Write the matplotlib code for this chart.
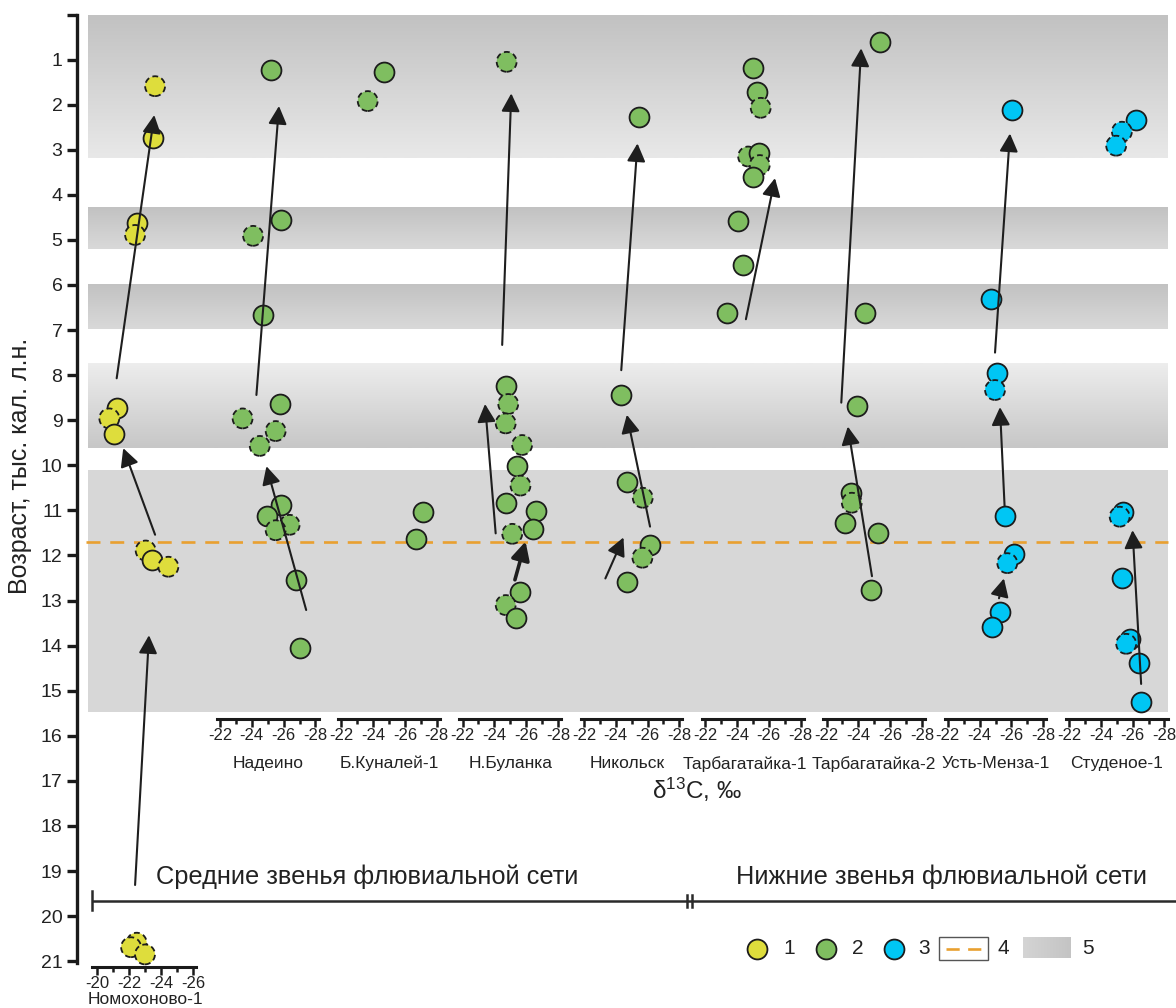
import numpy as np
import matplotlib
matplotlib.use("Agg")
import matplotlib.pyplot as plt
from matplotlib.colors import LinearSegmentedColormap

plt.rcParams['font.family'] = ['Liberation Sans', 'DejaVu Sans']
plt.rcParams['mathtext.fontset'] = 'custom'
plt.rcParams['mathtext.rm'] = 'Liberation Sans'
plt.rcParams['mathtext.it'] = 'Liberation Sans:italic'
plt.rcParams['axes.unicode_minus'] = False

# ---------------------------------------------------------------- data
age_ticks = list(range(0, 22))
d13c_ticks = [-22, -24, -26, -28]
nom_ticks = [-20, -22, -24, -26]

sites = ['Надеино', 'Б.Куналей-1', 'Н.Буланка', 'Никольск',
         'Тарбагатайка-1', 'Тарбагатайка-2', 'Усть-Менза-1', 'Студеное-1']
site_groups = [2, 2, 2, 2, 2, 2, 3, 3]

# samples: (δ13C ‰, age ka cal BP, dashed outline)
nomokhonovo = [(-23.63, 1.59, 1), (-23.52, 2.75, 0), (-22.48, 4.62, 0),
               (-22.38, 4.89, 1), (-21.23, 8.74, 0), (-20.77, 8.96, 1),
               (-21.08, 9.31, 0), (-23.04, 11.89, 1), (-23.46, 12.09, 0),
               (-24.46, 12.25, 1), (-22.48, 20.59, 1), (-22.13, 20.69, 1),
               (-23.00, 20.85, 1)]
nadeino = [(-25.23, 1.23, 0), (-25.86, 4.56, 0), (-24.08, 4.91, 1),
           (-24.71, 6.67, 0), (-25.75, 8.64, 0), (-23.42, 8.96, 1),
           (-25.50, 9.24, 1), (-24.50, 9.57, 1), (-25.81, 10.87, 0),
           (-24.98, 11.12, 0), (-26.38, 11.32, 1), (-25.50, 11.44, 1),
           (-26.75, 12.54, 0), (-27.06, 14.06, 0)]
b_kunalei = [(-24.66, 1.27, 0), (-23.66, 1.92, 1),
             (-27.16, 11.04, 0), (-26.69, 11.64, 0)]
n_bulanka = [(-24.77, 1.05, 1), (-24.71, 8.23, 0), (-24.87, 8.64, 1),
             (-24.71, 9.07, 1), (-25.74, 9.55, 1), (-25.43, 10.02, 0),
             (-25.64, 10.45, 1), (-24.71, 10.83, 0), (-26.62, 11.01, 0),
             (-26.41, 11.41, 0), (-25.12, 11.52, 1), (-25.64, 12.80, 0),
             (-24.71, 13.10, 1), (-25.33, 13.39, 0)]
nikolsk = [(-25.49, 2.28, 0), (-24.35, 8.44, 0), (-24.70, 10.38, 0),
           (-25.70, 10.72, 1), (-26.16, 11.77, 0), (-25.68, 12.05, 1),
           (-24.70, 12.58, 0)]
tarbagataika1 = [(-25.01, 1.19, 0), (-25.28, 1.71, 0), (-25.49, 2.07, 1),
                 (-24.70, 3.15, 1), (-25.37, 3.08, 0), (-25.43, 3.34, 1),
                 (-25.01, 3.61, 0), (-24.08, 4.57, 0), (-24.39, 5.56, 0),
                 (-23.37, 6.63, 0)]
tarbagataika2 = [(-25.39, 0.60, 0), (-24.43, 6.63, 0), (-23.93, 8.68, 0),
                 (-23.51, 10.62, 0), (-23.59, 10.83, 1), (-23.18, 11.27, 0),
                 (-25.26, 11.51, 0), (-24.80, 12.77, 0)]
ust_menza1 = [(-26.05, 2.12, 0), (-24.69, 6.31, 0), (-25.11, 7.96, 0),
              (-24.97, 8.33, 1), (-25.57, 11.12, 0), (-26.19, 11.97, 0),
              (-25.74, 12.17, 1), (-25.28, 13.25, 0), (-24.80, 13.58, 0)]
studenoe1 = [(-26.21, 2.34, 0), (-25.32, 2.60, 1), (-24.96, 2.91, 1),
             (-25.38, 11.03, 0), (-25.18, 11.14, 1), (-25.32, 12.49, 0),
             (-25.84, 13.86, 0), (-25.59, 13.96, 1), (-26.40, 14.38, 0),
             (-26.53, 15.24, 0)]

# trends: (from δ13C, from age) -> (to δ13C, to age)
nomokhonovo_trends = [((-22.38, 19.31), (-23.25, 13.77)),
                      ((-23.63, 11.54), (-21.64, 9.62)),
                      ((-21.23, 8.07), (-23.58, 2.23))]
nadeino_trends = [((-24.29, 8.44), (-25.71, 2.03)),
                  ((-27.42, 13.21), (-24.92, 10.02))]
b_kunalei_trends = []
n_bulanka_trends = [((-24.49, 7.33), (-25.06, 1.75)),
                    ((-24.08, 11.51), (-23.41, 8.64)),
                    ((-25.29, 12.54), (-25.96, 11.69))]
nikolsk_trends = [((-24.35, 7.89), (-25.37, 2.86)),
                  ((-26.16, 11.36), (-24.70, 8.88)),
                  ((-23.35, 12.51), (-24.49, 11.60))]
tarbagataika1_trends = [((-24.56, 6.76), (-26.39, 3.63))]
tarbagataika2_trends = [((-22.93, 8.61), (-24.18, 0.75)),
                        ((-24.86, 12.46), (-23.34, 9.14))]
ust_menza1_trends = [((-24.97, 7.50), (-25.91, 2.64)),
                     ((-25.57, 10.90), (-25.28, 8.71)),
                     ((-25.22, 12.95), (-25.53, 12.51))]
studenoe1_trends = [((-26.53, 14.85), (-25.99, 11.44))]

site_samples = [nadeino, b_kunalei, n_bulanka, nikolsk,
                tarbagataika1, tarbagataika2, ust_menza1, studenoe1]
site_trends = [nadeino_trends, b_kunalei_trends, n_bulanka_trends,
               nikolsk_trends, tarbagataika1_trends, tarbagataika2_trends,
               ust_menza1_trends, studenoe1_trends]

# warm intervals (ka) and Younger Dryas boundary
warm_intervals = [(0.03, 3.18), (4.30, 5.21), (6.00, 6.98),
                  (7.74, 9.61), (10.12, 15.48)]
yd_boundary = 11.7

# ---------------------------------------------------------------- style
W, H = 1176, 1008
TOP = 14.5            # px of age 0
KYR = 45.08           # px per ka
PERMIL = 15.9         # px per 1 ‰
PANEL_STEP = 121.3    # px between neighbouring site panels
group_colors = {1: '#dedd3c', 2: '#7fbe60', 3: '#00c6f4'}
EDGE = '#1c1c1c'
ARROW = '#1e1e1e'
TEXT = '#222222'
ORANGE = '#e9a030'
MS = 205
band_shades = [('#c2c2c2', '#e8e8e8'), ('#c2c2c2', '#d9d9d9'),
               ('#c2c2c2', '#d9d9d9'), ('#ededed', '#c7c7c7'),
               ('#d7d7d7', '#d7d7d7')]
# caption nudges in ‰ (positive values move the caption towards -22)
caption_nudge = {'Тарбагатайка-1': 0.5, 'Никольск': 0.3}


def rect(x0, y0, w, h):
    return [x0 / W, 1 - (y0 + h) / H, w / W, h / H]


fig = plt.figure(figsize=(W / 100, H / 100), dpi=100)
fig.patch.set_facecolor('white')

# ---------------------------------------------------------------- age axis
AGE_MAX = 21.05
ax0 = fig.add_axes(rect(77, TOP, W - 77, AGE_MAX * KYR))
for (a0, a1), (c0, c1) in zip(warm_intervals, band_shades):
    cmap = LinearSegmentedColormap.from_list('b', [c0, c1])
    grad = np.linspace(0, 1, 64).reshape(-1, 1)
    ax0.imshow(grad, extent=(88, 1168, a1, a0), origin='upper',
               aspect='auto', cmap=cmap, vmin=0, vmax=1, zorder=0)
ax0.hlines(yd_boundary, 86, 1168, colors=ORANGE, lw=1.9,
           linestyles=(0, (5.3, 3.7)), zorder=1)
ax0.set_xlim(77, W)
ax0.set_ylim(AGE_MAX, 0)
ax0.patch.set_visible(False)
for s in ['top', 'right', 'bottom']:
    ax0.spines[s].set_visible(False)
ax0.spines['left'].set_linewidth(2.4)
ax0.spines['left'].set_color('#1a1a1a')
ax0.set_xticks([])
ax0.set_yticks(age_ticks)
ax0.set_yticklabels([''] + [str(a) for a in age_ticks[1:]])
ax0.tick_params(axis='y', length=7.5, width=2.4, labelsize=14, pad=3,
                color='#1a1a1a', labelcolor=TEXT)


def draw_samples(ax, samples, color):
    for d, a, dashed in samples:
        ax.scatter([d], [a], s=MS, c=color, edgecolors=EDGE,
                   linewidths=1.3,
                   linestyles=(0, (3.2, 2.0)) if dashed else 'solid',
                   zorder=3, clip_on=False)


def draw_trends(ax, trends, lw=1.5):
    for (d0, a0), (d1, a1) in trends:
        ax.annotate('', xy=(d1, a1), xytext=(d0, a0), annotation_clip=False,
                    arrowprops=dict(arrowstyle='-|>,head_length=0.55,head_width=0.28',
                                    mutation_scale=20, lw=lw, color=ARROW,
                                    shrinkA=0, shrinkB=0), zorder=4)


def style_panel(ax, ticks, spine_age, label, label_age):
    ax.patch.set_visible(False)
    for s in ['top', 'right', 'left']:
        ax.spines[s].set_visible(False)
    ax.spines['bottom'].set_position(('data', spine_age))
    ax.spines['bottom'].set_linewidth(2.2)
    ax.spines['bottom'].set_color('#1a1a1a')
    ax.set_yticks([])
    ax.set_xticks(ticks)
    ax.set_xticklabels([str(t) for t in ticks])
    step = 1 if ticks[1] > ticks[0] else -1
    ax.set_xticks([t + step for t in ticks[:-1]], minor=True)
    ax.tick_params(axis='x', which='major', direction='out', length=5.5,
                   width=1.8, labelsize=12, pad=1.5, color='#1a1a1a',
                   labelcolor=TEXT)
    ax.tick_params(axis='x', which='minor', direction='out', length=3.5,
                   width=1.8, color='#1a1a1a')
    centre = (ticks[0] + ticks[-1]) / 2 + caption_nudge.get(label, 0.0)
    ax.text(centre, label_age, label, ha='center', va='center',
            fontsize=12.5, color=TEXT, clip_on=False)


PANEL_AGE = 21.2
SPINE_AGE = 15.62
NAME_AGE = 16.62
for i, (name, grp, samples, trends) in enumerate(
        zip(sites, site_groups, site_samples, site_trends)):
    x22 = 220 + PANEL_STEP * i
    ax = fig.add_axes(rect(x22 - 0.2 * PERMIL, TOP, 6.4 * PERMIL, PANEL_AGE * KYR))
    ax.set_xlim(-21.8, -28.2)
    ax.set_ylim(PANEL_AGE, 0)
    style_panel(ax, d13c_ticks, SPINE_AGE, name, NAME_AGE)
    draw_samples(ax, samples, group_colors[grp])
    if name == 'Н.Буланка':
        draw_trends(ax, trends[:2])
        draw_trends(ax, trends[2:], lw=2.6)
    else:
        draw_trends(ax, trends)

# Nomokhonovo-1 panel with its axis at the very bottom
axn = fig.add_axes(rect(97 - 0.3 * 16, TOP, 6.5 * 16, PANEL_AGE * KYR))
axn.set_xlim(-19.7, -26.2)
axn.set_ylim(PANEL_AGE, 0)
style_panel(axn, nom_ticks, 21.12, 'Номохоново-1', 21.86)
draw_samples(axn, nomokhonovo, group_colors[1])
draw_trends(axn, nomokhonovo_trends)

# ---------------------------------------------------------------- annotations
ov = fig.add_axes([0, 0, 1, 1])
ov.axis('off')
ov.patch.set_visible(False)

ov.text(20, 466, 'Возраст, тыс. кал. л.н.', rotation=90, ha='center',
        va='center', fontsize=18, color=TEXT)
ov.text(697, 790, 'δ$^{13}$C, ‰', ha='center', va='center', fontsize=17.5,
        color=TEXT)

ov.text(367, 877, 'Средние звенья флювиальной сети', ha='center',
        va='center', fontsize=18.3, color=TEXT)
ov.text(941, 877, 'Нижние звенья флювиальной сети', ha='center',
        va='center', fontsize=18.3, color=TEXT)
ov.plot([92, W], [900.5, 900.5], color='#2a2a2a', lw=1.8,
        solid_capstyle='butt')
ov.plot([92, 92], [891, 910], color='#2a2a2a', lw=1.8)
ov.plot([687, 687], [895, 907], color='#2a2a2a', lw=1.8)
ov.plot([692, 692], [895, 907], color='#2a2a2a', lw=1.8)

# legend
LY = 949
for xc, xt, grp in [(757, 789, 1), (826, 858, 2), (894, 924, 3)]:
    ov.scatter([xc], [LY], s=MS, c=group_colors[grp], edgecolors=EDGE,
               linewidths=1.3, zorder=3)
    ov.text(xt, LY, str(grp), ha='center', va='center', fontsize=15,
            color=TEXT)
ov.add_patch(plt.Rectangle((939, 937), 49, 23, fill=False,
                           edgecolor='#555555', lw=1.0))
ov.plot([946, 981], [LY, LY], color=ORANGE, lw=1.9,
        linestyle=(0, (5.0, 3.2)))
ov.text(1003, LY, '4', ha='center', va='center', fontsize=15, color=TEXT)
lg = LinearSegmentedColormap.from_list('lg', ['#d4d4d4', '#c4c4c4'])
ov.imshow(np.linspace(0, 1, 32).reshape(1, -1), extent=(1023, 1071, 958, 937),
          aspect='auto', cmap=lg, vmin=0, vmax=1)
ov.text(1088, LY, '5', ha='center', va='center', fontsize=15, color=TEXT)
ov.set_xlim(0, W)
ov.set_ylim(H, 0)

fig.savefig('out.png', dpi=100, facecolor='white')
